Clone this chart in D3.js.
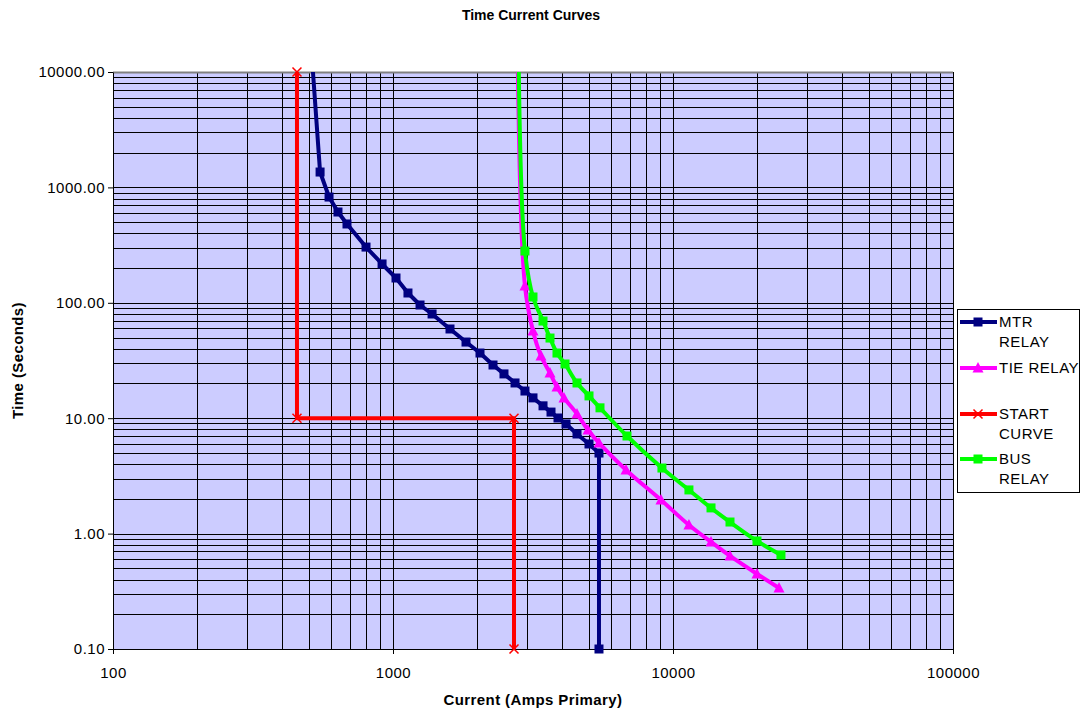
<!DOCTYPE html>
<html>
<head>
<meta charset="utf-8">
<script src="https://cdn.jsdelivr.net/npm/d3@7"></script>
<style>
  body { margin: 0; background: #fff; }
  #chart { width: 1081px; height: 713px; }
  text { font-family: Arial, "Liberation Sans", sans-serif; fill: #000; }
  .title, .axisLabel { font-weight: bold; }
</style>
</head>
<body>
<div id="chart"></div>
<script>
// series data: current (A primary) and time (s)
var mtrCurrent = [515, 549, 591, 636, 685, 801, 914, 1025, 1131, 1249, 1379, 1598, 1823, 2045, 2276, 2491, 2728, 2960, 3162, 3434, 3667, 3884, 4149, 4541, 5012, 5441, 5441];
var mtrTime    = [12000, 1359, 825, 612, 482, 304, 217, 164, 121.6, 95.7, 80, 59.3, 45.7, 36.7, 28.9, 24.2, 20.2, 17.2, 15.0, 12.8, 11.3, 10.04, 8.91, 7.30, 5.98, 4.99, 0.1];

var tieCurrent = [2790, 2960, 3162, 3378, 3637, 3852, 4080, 4541, 4971, 5441, 6795, 9060, 11400, 13670, 15980, 19950, 23910];
var tieTime    = [12000, 139.8, 57.0, 34.6, 24.6, 18.6, 15.0, 10.9, 7.90, 6.10, 3.56, 1.955, 1.187, 0.846, 0.640, 0.447, 0.338];

var startCurrent = [454, 454, 2705, 2705];
var startTime    = [10000, 10, 10, 0.1];

var busCurrent = [2811, 2960, 3162, 3434, 3637, 3852, 4115, 4541, 5012, 5486, 6850, 9130, 11400, 13670, 15980, 19950, 24300];
var busTime    = [12000, 281, 112.3, 69.5, 49.5, 36.7, 29.5, 20.2, 15.6, 12.3, 7.01, 3.70, 2.39, 1.67, 1.26, 0.863, 0.653];

var seriesNames = ["MTR RELAY", "TIE RELAY", "START CURVE", "BUS RELAY"];
var xTickValues = [100, 1000, 10000, 100000];
var yTickValues = [0.1, 1, 10, 100, 1000, 10000];

var width = 1081, height = 713;
var margin = {top: 72, left: 113, right: 128, bottom: 64};

var svg = d3.select("#chart").append("svg")
    .attr("width", width)
    .attr("height", height);

var xScale = d3.scaleLog()
    .domain([100, 100000])
    .range([margin.left, width - margin.right]);

var yScale = d3.scaleLog()
    .domain([0.1, 10000])
    .range([height - margin.bottom, margin.top]);

var x0 = xScale.range()[0], x1 = xScale.range()[1];
var y0 = yScale.range()[1], y1 = yScale.range()[0];

// plot area
svg.append("rect")
    .attr("x", x0).attr("y", y0)
    .attr("width", x1 - x0).attr("height", y1 - y0)
    .attr("fill", "#ccccff");

svg.append("clipPath").attr("id", "plotClip")
  .append("rect")
    .attr("x", x0).attr("y", y0)
    .attr("width", x1 - x0).attr("height", y1 - y0);

// log grid: 1..9 in every decade
function logGrid(lo, hi) {
    var out = [];
    for (var e = lo; e < hi; e *= 10) {
        for (var k = 1; k < 10; k++) out.push(k * e);
    }
    out.push(hi);
    return out;
}

svg.append("g").selectAll("line")
    .data(logGrid(100, 100000))
    .join("line")
    .attr("x1", d => Math.round(xScale(d)) + 0.5).attr("x2", d => Math.round(xScale(d)) + 0.5)
    .attr("y1", y0).attr("y2", y1)
    .attr("stroke", "#000").attr("stroke-width", 1);

svg.append("g").selectAll("line")
    .data(logGrid(0.1, 10000))
    .join("line")
    .attr("x1", x0).attr("x2", x1)
    .attr("y1", d => Math.round(yScale(d)) + 0.5).attr("y2", d => Math.round(yScale(d)) + 0.5)
    .attr("stroke", "#000").attr("stroke-width", 1);

// top border is grey
svg.append("line")
    .attr("x1", x0).attr("x2", x1)
    .attr("y1", y0 + 0.5).attr("y2", y0 + 0.5)
    .attr("stroke", "#808080").attr("stroke-width", 2);

// axes
var xAxis = svg.append("g")
    .attr("transform", `translate(0,${y1})`)
    .call(d3.axisBottom(xScale).tickValues(xTickValues).tickFormat(d3.format("d")).tickSize(5).tickSizeOuter(0));

var yAxis = svg.append("g")
    .attr("transform", `translate(${x0},0)`)
    .call(d3.axisLeft(yScale).tickValues(yTickValues).tickFormat(d3.format(".2f")).tickSize(5).tickSizeOuter(0));

[xAxis, yAxis].forEach(function(ax) {
    ax.select(".domain").attr("stroke", "#000");
    ax.selectAll(".tick line").attr("stroke", "#000");
    ax.selectAll(".tick text")
        .style("font-size", "15px")
        .style("letter-spacing", "0.5px")
        .style("font-family", "Arial, 'Liberation Sans', sans-serif");
});
xAxis.selectAll(".tick text").attr("y", 24).attr("dy", "0.35em");
yAxis.selectAll(".tick text").attr("x", -8);

// titles
svg.append("text").attr("class", "title")
    .attr("x", 531).attr("y", 20)
    .attr("text-anchor", "middle")
    .style("font-size", "14px")
    .text("Time Current Curves");

svg.append("text").attr("class", "axisLabel")
    .attr("x", (x0 + x1) / 2).attr("y", 705)
    .attr("text-anchor", "middle")
    .style("font-size", "15px")
    .style("letter-spacing", "0.4px")
    .text("Current (Amps Primary)");

svg.append("text").attr("class", "axisLabel")
    .attr("transform", "rotate(-90)")
    .attr("x", -(y0 + y1) / 2).attr("y", 23)
    .attr("text-anchor", "middle")
    .style("font-size", "15px")
    .style("letter-spacing", "0.4px")
    .text("Time (Seconds)");

// series
var series = [
    {name: seriesNames[0], xs: mtrCurrent, ys: mtrTime, color: "#000080", marker: "square", curve: d3.curveLinear},
    {name: seriesNames[1], xs: tieCurrent, ys: tieTime, color: "#ff00ff", marker: "triangle", curve: d3.curveCatmullRom},
    {name: seriesNames[2], xs: startCurrent, ys: startTime, color: "#ff0000", marker: "cross", curve: d3.curveLinear},
    {name: seriesNames[3], xs: busCurrent, ys: busTime, color: "#00ff00", marker: "square", curve: d3.curveCatmullRom}
];
series.forEach(function(s) {
    s.points = s.xs.map((x, i) => ({x: x, y: s.ys[i]}));
});

function drawMarker(g, type, color) {
    if (type === "square") {
        g.append("rect").attr("x", -4.5).attr("y", -4.5).attr("width", 9).attr("height", 9).attr("fill", color);
    } else if (type === "triangle") {
        g.append("path").attr("d", "M0,-6L5.5,4.5L-5.5,4.5Z").attr("fill", color);
    } else {
        g.append("path").attr("d", "M-4.5,-4.5L4.5,4.5M-4.5,4.5L4.5,-4.5").attr("stroke", color).attr("stroke-width", 1.5);
    }
}

var line = d3.line().x(d => xScale(d.x)).y(d => yScale(d.y));

var plot = svg.append("g");
series.forEach(function(s) {
    plot.append("path")
        .datum(s.points)
        .attr("clip-path", "url(#plotClip)")
        .attr("fill", "none")
        .attr("stroke", s.color)
        .attr("stroke-width", 4)
        .attr("stroke-linejoin", "round")
        .attr("d", line.curve(s.curve));

    plot.append("g").selectAll("g")
        .data(s.points.filter(d => d.y <= 10000))
        .join("g")
        .attr("transform", d => `translate(${xScale(d.x)},${yScale(d.y)})`)
        .each(function() { drawMarker(d3.select(this), s.marker, s.color); });
});

// legend
var legend = svg.append("g").attr("transform", "translate(957,309)");
legend.append("rect")
    .attr("x", 0.5).attr("y", 0.5)
    .attr("width", 122).attr("height", 183)
    .attr("fill", "#fff").attr("stroke", "#000");

var legendRows = [
    {y: 13, lines: ["MTR", "RELAY"]},
    {y: 59, lines: ["TIE RELAY"]},
    {y: 105, lines: ["START", "CURVE"]},
    {y: 150, lines: ["BUS", "RELAY"]}
];
series.forEach(function(s, i) {
    var row = legend.append("g").attr("transform", `translate(0,${legendRows[i].y})`);
    row.append("line").attr("x1", 3).attr("x2", 40).attr("y1", 0).attr("y2", 0)
        .attr("stroke", s.color).attr("stroke-width", 4);
    drawMarker(row.append("g").attr("transform", "translate(21,0)"), s.marker, s.color);
    legendRows[i].lines.forEach(function(t, j) {
        row.append("text")
            .attr("x", 42).attr("y", j * 20)
            .attr("dy", "0.35em")
            .style("font-size", "15px")
            .style("letter-spacing", "0.5px")
            .text(t);
    });
});
</script>
</body>
</html>
